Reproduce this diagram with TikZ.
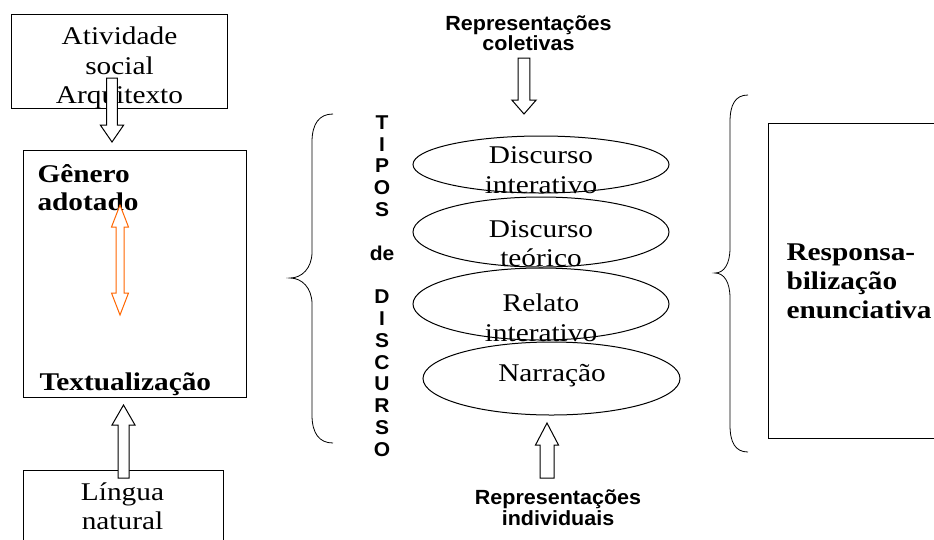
\documentclass[tikz,border=0pt]{standalone}
\usepackage{fontspec}
\usetikzlibrary{calc,shapes.geometric}
\newfontfamily\wordserif{Liberation Serif}[FakeStretch=1.15]
\newfontfamily\wordsans{Liberation Sans}[FakeStretch=1.05]
\definecolor{arroworange}{RGB}{255,102,0}
% hollow block arrow: [style]{from}{tip}{shaft half width}{head half width}{head length}
\newcommand{\hollowarrow}[6][]{%
  \coordinate (hb) at ($(#3)!#6!(#2)$);
  \draw[#1] ($(#2)!#4!90:(#3)$) -- ($(hb)!#4!90:(#3)$) -- ($(hb)!#5!90:(#3)$) -- (#3)
    -- ($(hb)!#5!-90:(#3)$) -- ($(hb)!#4!-90:(#3)$) -- ($(#2)!#4!-90:(#3)$) -- cycle;
}
% same, with a head at both ends
\newcommand{\hollowdblarrow}[6][]{%
  \coordinate (hb1) at ($(#2)!#6!(#3)$);
  \coordinate (hb2) at ($(#3)!#6!(#2)$);
  \draw[#1] (#2) -- ($(hb1)!#5!90:(#3)$) -- ($(hb1)!#4!90:(#3)$) -- ($(hb2)!#4!-90:(#2)$)
    -- ($(hb2)!#5!-90:(#2)$) -- (#3) -- ($(hb2)!#5!90:(#2)$) -- ($(hb2)!#4!90:(#2)$)
    -- ($(hb1)!#4!-90:(#3)$) -- ($(hb1)!#5!-90:(#3)$) -- cycle;
}

\begin{document}
\begin{tikzpicture}[x=1pt, y=-1pt, line width=1pt,
  every node/.style={inner sep=0pt},
  plaintxt/.style={font=\wordserif\fontsize{25.5}{29.5}\selectfont, align=center},
  boldtxt/.style={font=\wordserif\bfseries\fontsize{25.5}{28.5}\selectfont, align=left},
  sanstxt/.style={font=\wordsans\bfseries\fontsize{20.5}{20.5}\selectfont, align=center},
  boxframe/.style={draw, rectangle},
  discell/.style={draw, ellipse, minimum width=256pt},
  blockarr/.style={draw=black, fill=white}]
\useasboundingbox (0,0) rectangle (934,539);

% left column
\node[boxframe, minimum width=216pt, minimum height=94pt] (ativ) at (119,61) {};
\node[plaintxt] (ativtxt) at (119.5,68) {Atividade\\social\\Arquitexto};
\node[boxframe, minimum width=223pt, minimum height=247pt] (genero) at (134.5,273.5) {};
\node[boldtxt, anchor=west] (generotxt) at (37,187.5) {Gênero\\adotado};
\node[boldtxt, anchor=west] (textual) at (39,384.5) {Textualização};
\node[boxframe, minimum width=200pt, minimum height=80pt] (lingua) at (123,510) {};
\node[plaintxt] (linguatxt) at (122.5,506) {Língua\\natural};

\coordinate (arqA) at (112,78);
\coordinate (arqB) at (112,142);
\hollowarrow[blockarr]{arqA}{arqB}{5.3pt}{11.7pt}{17pt}
\coordinate (linA) at (123.5,478);
\coordinate (linB) at (123.5,405);
\hollowarrow[blockarr]{linA}{linB}{5.5pt}{11.5pt}{20pt}
\coordinate (genA) at (120,205);
\coordinate (genB) at (120,315);
\hollowdblarrow[blockarr, draw=arroworange]{genA}{genB}{4pt}{8.5pt}{22pt}

% tipos de discurso
\draw[line width=0.8pt] (333,114) .. controls (319,114) and (312,124) .. (312,142) -- (312,252)
  .. controls (312,268) and (302,278) .. (290,278) .. controls (302,278) and (312,288) .. (312,304)
  -- (312,415) .. controls (312,433) and (319,443) .. (333,443);
\node[sanstxt, font=\wordsans\bfseries\fontsize{20}{21.8}\selectfont] (tipos) at (382,286)
  {T\\I\\P\\O\\S\\[21.8pt]de\\[21.8pt]D\\I\\S\\C\\U\\R\\S\\O};

\node[sanstxt] (repcol) at (528.5,33.3) {Representações\\coletivas};
\coordinate (colA) at (524,58);
\coordinate (colB) at (524,114);
\hollowarrow[blockarr]{colA}{colB}{5.8pt}{12.2pt}{14pt}

\node[discell, minimum height=57pt] (ell1) at (541,164.5) {};
\node[plaintxt] (ell1txt) at (541,170) {Discurso\\interativo};
\node[discell, minimum height=70pt] (ell2) at (541,232) {};
\node[plaintxt] (ell2txt) at (541,243.5) {Discurso\\teórico};
\node[discell, minimum height=72pt] (ell3) at (541,304) {};
\node[plaintxt] (ell3txt) at (541,318) {Relato\\interativo};
\node[discell, minimum width=257pt, minimum height=73pt] (ell4) at (551.5,378.5) {};
\node[plaintxt] (ell4txt) at (552,376) {Narração};

\coordinate (indA) at (547,478);
\coordinate (indB) at (547,423);
\hollowarrow[blockarr]{indA}{indB}{7pt}{11.5pt}{22pt}
\node[sanstxt] (repind) at (558,507.7) {Representações\\individuais};

% responsabilizacao
\draw[line width=0.8pt] (748,95) .. controls (735,95) and (730,105) .. (730,122) -- (730,248)
  .. controls (730,264) and (724,273) .. (715,273) .. controls (724,273) and (730,282) .. (730,298)
  -- (730,425) .. controls (730,442) and (735,452) .. (748,452);
\node[boxframe, minimum width=200pt, minimum height=315pt] (resp) at (868,280.5) {};
\node[boldtxt, anchor=west, font=\wordserif\bfseries\fontsize{25.5}{29}\selectfont] (resptxt)
  at (786,281.5) {Responsa-\\bilização\\enunciativa};
\end{tikzpicture}
\end{document}
